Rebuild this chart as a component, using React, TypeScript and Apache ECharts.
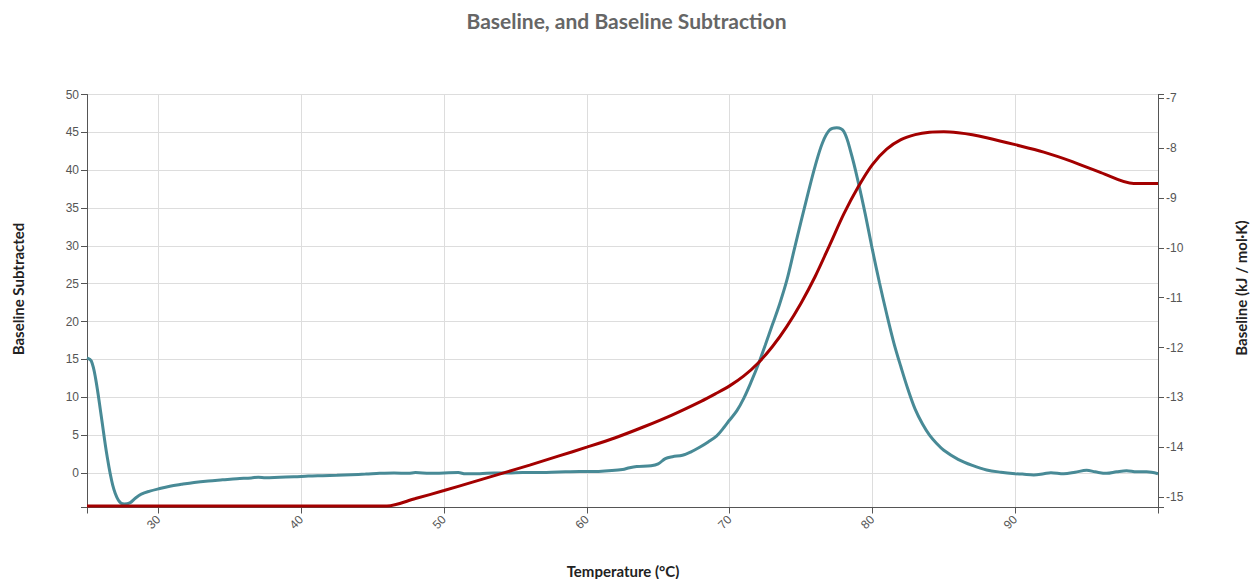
import React, { useEffect, useRef } from "react";
import * as echarts from "echarts";

const titleText = "Baseline, and Baseline Subtraction";
const xName = "Temperature (°C)";
const leftName = "Baseline Subtracted";
const rightName = "Baseline (kJ / mol·K)";

// Axis extents and tick labels
const xMin = 25;
const xMax = 100;
const xLabels = [30, 40, 50, 60, 70, 80, 90];
const leftMin = -4.56;
const leftMax = 50;
const leftLabels = [0, 5, 10, 15, 20, 25, 30, 35, 40, 45, 50];
const rightMin = -15.21;
const rightMax = -6.924;
const rightLabels = [-15, -14, -13, -12, -11, -10, -9, -8, -7];

// Baseline-subtracted signal (left axis)
const subTemps = [
  25.0, 25.3, 25.6, 26.0, 26.4, 26.8, 27.2, 27.6, 28.0, 28.4, 28.8, 29.4, 30.0, 30.8, 31.6, 32.5,
  33.5, 34.5, 35.5, 36.5, 37.0, 37.5, 38.5, 39.5, 40.5, 41.5, 42.5, 43.5, 44.5, 45.5, 46.5, 47.5,
  48.0, 49.0, 50.0, 51.0, 51.5, 52.5, 53.5, 54.5, 55.5, 56.5, 57.5, 58.5, 59.5, 60.5, 61.5, 62.5,
  63.0, 63.5, 64.5, 65.0, 65.5, 66.0, 66.7, 67.3, 67.9, 68.5, 69.1, 69.6, 70.0, 70.5, 71.0, 71.5,
  72.0, 72.5, 73.0, 73.5, 74.0, 74.5, 75.0, 75.5, 76.0, 76.5, 77.0, 77.5, 78.0, 78.5, 79.0, 79.5,
  80.0, 80.5, 81.0, 81.5, 82.0, 82.5, 83.0, 83.5, 84.0, 84.5, 85.0, 86.0, 87.0, 88.0, 89.0, 90.0,
  90.5, 91.3, 92.0, 92.5, 93.4, 94.2, 95.0, 95.6, 96.4, 97.1, 97.8, 98.5, 99.2, 100.0,
];
const subValues = [
  15.2, 14.8, 12.5, 7.5, 2.3, -1.6, -3.6, -4.1, -3.95, -3.3, -2.8, -2.4, -2.1, -1.75, -1.5, -1.25,
  -1.05, -0.9, -0.75, -0.65, -0.55, -0.62, -0.55, -0.5, -0.4, -0.35, -0.3, -0.22, -0.15, -0.05, 0.0, -0.05,
  0.05, -0.05, 0.0, 0.05, -0.1, -0.1, 0.0, 0.0, 0.05, 0.05, 0.1, 0.15, 0.2, 0.2, 0.3, 0.45,
  0.7, 0.85, 0.95, 1.2, 1.9, 2.15, 2.35, 2.8, 3.4, 4.1, 4.9, 6.0, 7.0, 8.2, 9.9, 12.0,
  14.3, 16.9, 19.6, 22.3, 25.4, 29.3, 33.2, 37.0, 40.6, 43.6, 45.3, 45.6, 45.1, 42.3, 38.5, 34.2,
  29.5, 25.1, 21.0, 17.2, 14.0, 11.0, 8.4, 6.5, 5.0, 3.9, 3.0, 1.8, 1.0, 0.4, 0.1, -0.1,
  -0.15, -0.26, -0.1, 0.04, -0.1, 0.1, 0.35, 0.15, -0.05, 0.15, 0.3, 0.15, 0.15, -0.1,
];

// Baseline (right axis)
const baseTemps = [
  25, 45, 46, 48, 50, 52, 54, 56, 58, 60, 62, 64, 66, 68, 69, 70, 71, 72, 73, 74, 75, 76, 77, 78, 79,
  80, 81, 82, 83, 84, 85, 86, 87, 88, 90, 92, 94, 96, 98.3, 100,
];
const baseValues = [
  -15.18, -15.18, -15.18, -15.03, -14.87, -14.7, -14.53, -14.36, -14.18, -14.0, -13.81, -13.59, -13.35,
  -13.08, -12.93, -12.77, -12.57, -12.31, -11.98, -11.58, -11.11, -10.57, -9.95, -9.32, -8.78, -8.33,
  -8.02, -7.83, -7.73, -7.68, -7.67, -7.69, -7.73, -7.79, -7.93, -8.08, -8.27, -8.49, -8.71, -8.71,
];

export default function App() {
  const ref = useRef<HTMLDivElement>(null);
  useEffect(() => {
    document.body.style.margin = "0";
    const chart = echarts.init(ref.current!, null, { renderer: "svg" });
    const labelStyle = { color: "#555", fontFamily: "Liberation Sans", fontSize: 12 };
    const axisLine = { show: true, lineStyle: { color: "#555", width: 1 } };
    const tickStyle = { color: "#555", width: 1 };
    const nameFont = "bold 15px Lato";
    chart.setOption({
      animation: false,
      backgroundColor: "#fff",
      grid: { left: 87, right: 95, top: 94.5, bottom: 71.5, containLabel: false },
      title: {
        text: titleText,
        left: "center",
        top: 5,
        textStyle: { fontFamily: "Lato", fontWeight: "bold", fontSize: 21, color: "#666" },
      },
      graphic: [
        {
          type: "text",
          x: 18,
          y: 289,
          rotation: Math.PI / 2,
          style: { text: leftName, fill: "#222", font: nameFont, textAlign: "center", textVerticalAlign: "middle" },
        },
        {
          type: "text",
          x: 1241,
          y: 288,
          rotation: Math.PI / 2,
          style: { text: rightName, fill: "#222", font: nameFont, textAlign: "center", textVerticalAlign: "middle" },
        },
        {
          type: "text",
          x: 623,
          y: 571,
          style: { text: xName, fill: "#222", font: nameFont, textAlign: "center", textVerticalAlign: "middle" },
        },
      ],
      xAxis: {
        type: "value",
        min: xMin,
        max: xMax,
        axisLine: { ...axisLine, onZero: false },
        axisTick: { show: true, length: 6, lineStyle: tickStyle, customValues: [xMin, ...xLabels, xMax] },
        axisLabel: { ...labelStyle, rotate: 45, margin: 10, customValues: xLabels },
        splitLine: { show: true, lineStyle: { color: "#ddd", width: 1 } },
      },
      yAxis: [
        {
          type: "value",
          min: leftMin,
          max: leftMax,
          position: "left",
          axisLine,
          axisTick: { show: true, length: 6, lineStyle: tickStyle, customValues: [leftMin, ...leftLabels] },
          axisLabel: { ...labelStyle, margin: 8, customValues: leftLabels },
          splitLine: { show: true, lineStyle: { color: "#ddd", width: 1 } },
        },
        {
          type: "value",
          min: rightMin,
          max: rightMax,
          position: "right",
          axisLine,
          axisTick: { show: true, length: 6, lineStyle: tickStyle, customValues: [rightMin, ...rightLabels, rightMax] },
          axisLabel: { ...labelStyle, margin: 8, customValues: rightLabels },
          splitLine: { show: false },
        },
      ],
      series: [
        {
          name: leftName,
          type: "line",
          yAxisIndex: 0,
          data: subTemps.map((t, i) => [t, subValues[i]]),
          showSymbol: false,
          smooth: 0.35,
          clip: false,
          lineStyle: { color: "#488a96", width: 3 },
          itemStyle: { color: "#488a96" },
          z: 3,
        },
        {
          name: rightName,
          type: "line",
          yAxisIndex: 1,
          data: baseTemps.map((t, i) => [t, baseValues[i]]),
          showSymbol: false,
          smooth: 0.3,
          clip: false,
          lineStyle: { color: "#a30000", width: 3 },
          itemStyle: { color: "#a30000" },
          z: 4,
        },
      ],
    });
    return () => chart.dispose();
  }, []);
  return <div ref={ref} style={{ width: 1253, height: 579 }} />;
}
